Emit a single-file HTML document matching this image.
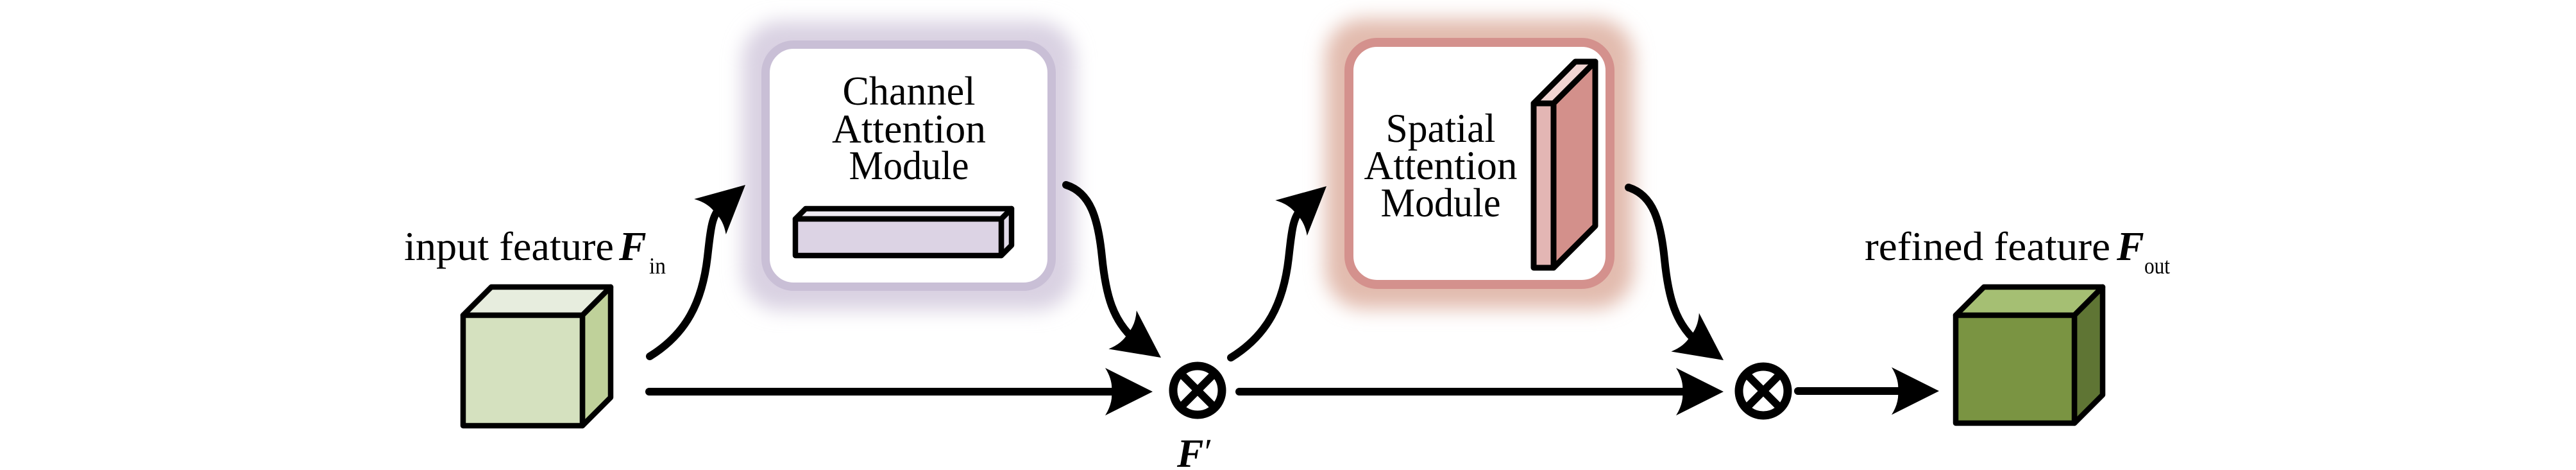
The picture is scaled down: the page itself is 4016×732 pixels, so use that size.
<!DOCTYPE html>
<html>
<head>
<meta charset="utf-8">
<style>
html,body{margin:0;padding:0;background:#fff;}
svg{display:block;}
text{font-family:"Liberation Serif","DejaVu Serif",serif;fill:#000;}
</style>
</head>
<body>
<svg width="4016" height="732" viewBox="0 0 4016 732" xmlns="http://www.w3.org/2000/svg">
<defs>
  <filter id="glow" x="-30%" y="-30%" width="160%" height="160%">
    <feGaussianBlur stdDeviation="15"/>
  </filter>
  <path id="ah" d="M0,0 L-74,-37 Q-62,-18 -64,0 Q-62,18 -74,37 Z" fill="#000"/>
</defs>

<!-- Glows -->
<rect x="1157" y="33" width="519" height="450" rx="60" fill="#d9d1e2" filter="url(#glow)"/>
<rect x="2066" y="29" width="481" height="452" rx="60" fill="#e2bbae" filter="url(#glow)"/>

<!-- Channel attention box -->
<rect x="1193.5" y="69.5" width="446" height="377" rx="44" fill="#fff" stroke="#c9bfd6" stroke-width="13"/>
<text x="1417" y="163" font-size="64" text-anchor="middle" textLength="207" lengthAdjust="spacingAndGlyphs">Channel</text>
<text x="1417" y="222" font-size="64" text-anchor="middle" textLength="240" lengthAdjust="spacingAndGlyphs">Attention</text>
<text x="1417" y="279" font-size="64" text-anchor="middle" textLength="187" lengthAdjust="spacingAndGlyphs">Module</text>
<!-- bar -->
<g stroke="#000" stroke-width="8.5" stroke-linejoin="round">
  <polygon points="1240,341 1256,325 1577,325 1561,341" fill="#eeeaf2"/>
  <polygon points="1561,341 1577,325 1577,382 1561,398" fill="#e2dbe9"/>
  <rect x="1240" y="341" width="321" height="57" fill="#dcd3e4"/>
</g>

<!-- Spatial attention box -->
<rect x="2103" y="66" width="407" height="377" rx="44" fill="#fff" stroke="#d4918d" stroke-width="14"/>
<text x="2246" y="221" font-size="64" text-anchor="middle" textLength="171" lengthAdjust="spacingAndGlyphs">Spatial</text>
<text x="2246" y="279" font-size="64" text-anchor="middle" textLength="239" lengthAdjust="spacingAndGlyphs">Attention</text>
<text x="2246" y="337" font-size="64" text-anchor="middle" textLength="187" lengthAdjust="spacingAndGlyphs">Module</text>
<!-- slab -->
<g stroke="#000" stroke-width="9" stroke-linejoin="round">
  <polygon points="2391,161 2456,96 2487,96 2422,161" fill="#f0d4d2"/>
  <polygon points="2422,161 2487,96 2487,352 2422,417" fill="#d3908b"/>
  <rect x="2391" y="161" width="31" height="256" fill="#e3b6b4"/>
</g>

<!-- Input cube -->
<g stroke="#000" stroke-width="8.5" stroke-linejoin="round">
  <polygon points="722,491 766,447 952,447 908,491" fill="#e7edde"/>
  <polygon points="908,491 952,447 952,619 908,663" fill="#bfd19a"/>
  <rect x="722" y="491" width="186" height="172" fill="#d5e1bf"/>
</g>

<!-- Output cube -->
<g stroke="#000" stroke-width="8.5" stroke-linejoin="round">
  <polygon points="3049,491 3093,447 3278,447 3234,491" fill="#a5bf73"/>
  <polygon points="3234,491 3278,447 3278,615 3234,659" fill="#5f7534"/>
  <rect x="3049" y="491" width="185" height="168" fill="#7a9442"/>
</g>

<!-- Labels -->
<text x="630" y="405" font-size="64" textLength="327" lengthAdjust="spacingAndGlyphs">input feature</text>
<text x="965" y="405" font-size="64" font-weight="bold" font-style="italic">F</text>
<text x="1012" y="426" font-size="36" textLength="26" lengthAdjust="spacingAndGlyphs">in</text>

<text x="2907" y="405" font-size="64" textLength="383" lengthAdjust="spacingAndGlyphs">refined feature</text>
<text x="3300" y="405" font-size="64" font-weight="bold" font-style="italic">F</text>
<text x="3343" y="426" font-size="36" textLength="40" lengthAdjust="spacingAndGlyphs">out</text>

<text x="1835" y="727" font-size="62" font-weight="bold" font-style="italic">F</text>
<text x="1878" y="722" font-size="56">′</text>

<!-- Connectors -->
<g fill="none" stroke="#000" stroke-width="12" stroke-linecap="round">
  <path d="M1013,555 C1070,520 1095,470 1103,400 C1108,355 1110,335 1124,322"/>
  <path d="M1662,288 C1700,300 1712,340 1718,400 C1724,460 1735,500 1770,530"/>
  <path d="M1919,557 C1976,522 2001,472 2009,402 C2014,357 2016,337 2030,324"/>
  <path d="M2539,292 C2577,304 2589,344 2595,404 C2601,464 2612,504 2647,534"/>
  <line x1="1012" y1="610" x2="1745" y2="610"/>
  <line x1="1932" y1="610" x2="2635" y2="610"/>
  <line x1="2803" y1="609" x2="2970" y2="609"/>
</g>

<!-- Arrowheads -->
<use href="#ah" transform="translate(1162,288) rotate(-42)"/>
<use href="#ah" transform="translate(1810,557) rotate(36)"/>
<use href="#ah" transform="translate(2068,290) rotate(-42)"/>
<use href="#ah" transform="translate(2687,561) rotate(36)"/>
<use href="#ah" transform="translate(1797,610)"/>
<use href="#ah" transform="translate(2687,610)"/>
<use href="#ah" transform="translate(3023,609)"/>

<!-- Otimes -->
<g stroke="#000" stroke-width="13" fill="#fff">
  <circle cx="1867" cy="608" r="38"/>
  <circle cx="2749" cy="609" r="38"/>
</g>
<g stroke="#000" stroke-width="12">
  <line x1="1840" y1="581" x2="1894" y2="635"/>
  <line x1="1894" y1="581" x2="1840" y2="635"/>
  <line x1="2722" y1="582" x2="2776" y2="636"/>
  <line x1="2776" y1="582" x2="2722" y2="636"/>
</g>
</svg>
</body>
</html>
